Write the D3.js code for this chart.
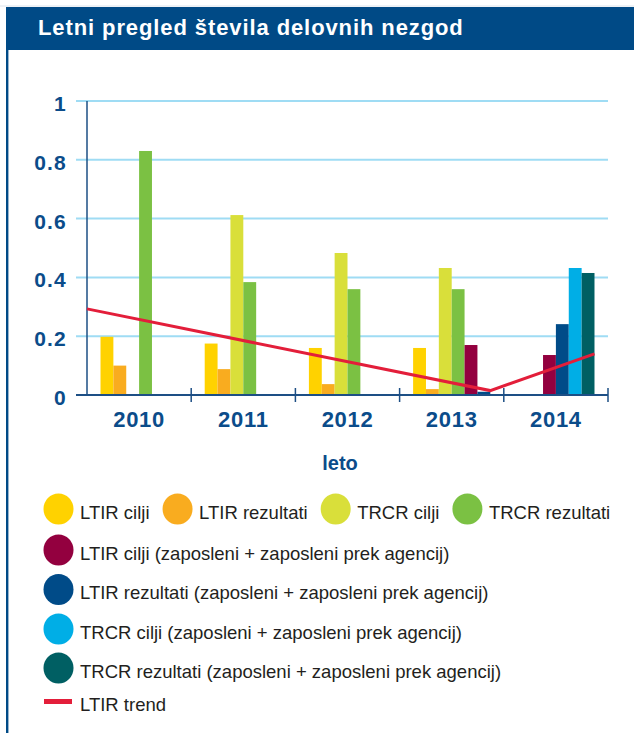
<!DOCTYPE html>
<html>
<head>
<meta charset="utf-8">
<script src="https://cdn.jsdelivr.net/npm/d3@7"></script>
<style>
  body { margin: 0; background: #fff; }
  text { font-family: "Liberation Sans", Arial, sans-serif; }
</style>
</head>
<body>
<div class="chart"></div>
<script>
// values
const years = ["2010", "2011", "2012", "2013", "2014"];
const yTicks = [0, 0.2, 0.4, 0.6, 0.8, 1];

const ltirCilji      = [0.198, 0.175, 0.160, 0.160, null];
const ltirRez        = [0.100, 0.088, 0.037, 0.020, null];
const trcrCilji      = [null, 0.612, 0.483, 0.432, null];
const trcrRez        = [0.830, 0.384, 0.360, 0.360, null];
const ltirCiljiZap   = [null, null, null, 0.170, 0.136];
const ltirRezZap     = [null, null, null, 0.011, 0.241];
const trcrCiljiZap   = [null, null, null, null, 0.432];
const trcrRezZap     = [null, null, null, null, 0.415];

// trend line, x on a continuous year scale
const trendYears  = [2009.5, 2013.37, 2014.37];
const trendValues = [0.293, 0.015, 0.14];

const seriesNames = [
  "LTIR cilji", "LTIR rezultati", "TRCR cilji", "TRCR rezultati",
  "LTIR cilji (zaposleni + zaposleni prek agencij)",
  "LTIR rezultati (zaposleni + zaposleni prek agencij)",
  "TRCR cilji (zaposleni + zaposleni prek agencij)",
  "TRCR rezultati (zaposleni + zaposleni prek agencij)"
];
const seriesValues = [ltirCilji, ltirRez, trcrCilji, trcrRez,
  ltirCiljiZap, ltirRezZap, trcrCiljiZap, trcrRezZap];
const seriesColors = ["#ffd200", "#f9ac1f", "#d9df3a", "#7bc143",
  "#93003f", "#004b88", "#00aee6", "#005f63"];

const blue = "#0b4c8a";

let svg = d3.select(".chart")
  .append("svg")
  .attr("width", 634)
  .attr("height", 733);

// header bar + left border
svg.append("line")
  .attr("x1", 0).attr("x2", 634)
  .attr("y1", 6).attr("y2", 6)
  .attr("stroke", "#dde4ec");

svg.append("rect")
  .attr("x", 6).attr("y", 7)
  .attr("width", 628).attr("height", 43)
  .attr("fill", "#004a86");

svg.append("line")
  .attr("x1", 7.2).attr("x2", 7.2)
  .attr("y1", 50).attr("y2", 733)
  .attr("stroke", "#004a86")
  .attr("stroke-width", 2.4);

svg.append("text")
  .attr("x", 38).attr("y", 35)
  .attr("fill", "#fff")
  .attr("font-size", 22)
  .attr("font-weight", "bold")
  .attr("letter-spacing", 0.9)
  .text("Letni pregled števila delovnih nezgod");

// scales
let x0 = d3.scaleBand().domain(years).range([87, 608]).padding(0);
let slot = d3.scaleBand().domain(d3.range(6)).range([0, x0.bandwidth()])
  .paddingInner(0).paddingOuter(1.05);
let y = d3.scaleLinear().domain([0, 1]).range([395, 101]);
let xt = d3.scaleLinear().domain([2009.5, 2014.5]).range([87, 608]);

// gridlines
svg.append("g")
  .selectAll("line")
  .data(yTicks.filter(d => d > 0))
  .join("line")
  .attr("x1", 76).attr("x2", 608)
  .attr("y1", d => y(d)).attr("y2", d => y(d))
  .attr("stroke", "#9fdcf4")
  .attr("stroke-width", 2);

// y labels
let yAxis = svg.append("g")
  .attr("transform", "translate(87,0)")
  .call(d3.axisLeft(y).tickValues(yTicks).tickSize(0).tickPadding(20)
    .tickFormat(d => d === 0 || d === 1 ? String(d) : d3.format(".1f")(d)));
yAxis.select(".domain").remove();
yAxis.selectAll("text")
  .attr("fill", blue)
  .attr("font-size", 21)
  .attr("font-weight", "bold")
  .attr("letter-spacing", 1.2)
  .attr("dy", "0.45em");

// bars
let bars = [];
years.forEach((yr, i) => {
  let zap = [];
  seriesValues.forEach((vals, s) => {
    if (vals[i] == null) return;
    if (s < 4) bars.push({ yr: yr, s: s, v: vals[i], k: s });
    else zap.push({ yr: yr, s: s, v: vals[i] });
  });
  zap.forEach((b, j) => { b.k = 6 - zap.length + j; bars.push(b); });
});

svg.append("g")
  .selectAll("rect")
  .data(bars)
  .join("rect")
  .attr("x", d => x0(d.yr) + slot(d.k))
  .attr("width", slot.bandwidth())
  .attr("y", d => y(d.v))
  .attr("height", d => y(0) - y(d.v))
  .attr("fill", d => seriesColors[d.s]);

// axes lines
svg.append("line")
  .attr("x1", 87).attr("x2", 87)
  .attr("y1", 101).attr("y2", 395)
  .attr("stroke", "#1d4f85").attr("stroke-width", 1.5);

svg.append("line")
  .attr("x1", 76).attr("x2", 608)
  .attr("y1", 395).attr("y2", 395)
  .attr("stroke", "#1d4f85").attr("stroke-width", 2);

svg.append("g")
  .selectAll("line")
  .data(years.slice(1).map(d => x0(d)).concat([x0.range()[1]]))
  .join("line")
  .attr("x1", d => d).attr("x2", d => d)
  .attr("y1", 388).attr("y2", 402)
  .attr("stroke", "#1d4f85").attr("stroke-width", 1.5);

// x labels
let xAxis = svg.append("g")
  .attr("transform", "translate(0,395)")
  .call(d3.axisBottom(x0).tickSize(0).tickPadding(16));
xAxis.select(".domain").remove();
xAxis.selectAll("text")
  .attr("fill", blue)
  .attr("font-size", 22)
  .attr("font-weight", "bold")
  .attr("letter-spacing", 0.7);

svg.append("text")
  .attr("x", 340).attr("y", 470)
  .attr("text-anchor", "middle")
  .attr("fill", blue)
  .attr("font-size", 20)
  .attr("font-weight", "bold")
  .text("leto");

// trend
svg.append("path")
  .datum(trendYears.map((d, i) => [d, trendValues[i]]))
  .attr("d", d3.line().x(d => xt(d[0])).y(d => y(d[1])))
  .attr("fill", "none")
  .attr("stroke", "#e31e3a")
  .attr("stroke-width", 3);

// legend
let legend = svg.append("g");
let rowY = [509, 550, 589.5, 629, 668];
let lx = 58.5;
seriesNames.forEach((name, i) => {
  let row = i < 4 ? 0 : i - 3;
  if (i >= 4) lx = 58.5;
  let cy = rowY[row];
  legend.append("ellipse")
    .attr("cx", lx).attr("cy", cy)
    .attr("rx", 15).attr("ry", 15.5)
    .attr("fill", seriesColors[i]);
  let t = legend.append("text")
    .attr("x", lx + 21.5).attr("y", cy + 9.5)
    .attr("font-size", 18.5)
    .attr("fill", "#231f20")
    .text(name);
  lx = lx + 21.5 + t.node().getComputedTextLength() + 13 + 15;
});

legend.append("line")
  .attr("x1", 44).attr("x2", 72)
  .attr("y1", 701.5).attr("y2", 701.5)
  .attr("stroke", "#e31e3a").attr("stroke-width", 5);
legend.append("text")
  .attr("x", 80).attr("y", 711)
  .attr("font-size", 18.5)
  .attr("fill", "#231f20")
  .text("LTIR trend");
</script>
</body>
</html>
